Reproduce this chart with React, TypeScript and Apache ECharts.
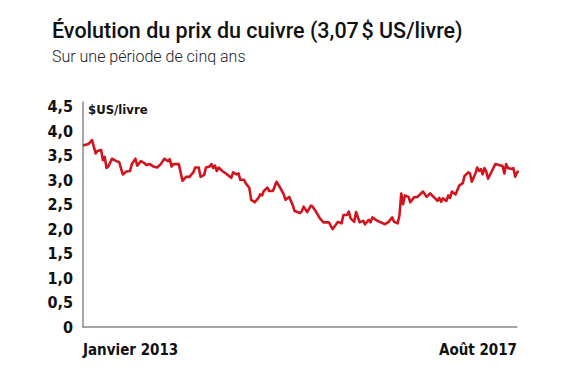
import React, { useEffect, useRef } from "react";
import * as echarts from "echarts";

const titleText = "Évolution du prix du cuivre (3,07\u202f$ US/livre)";
const subtitleText = "Sur une période de cinq ans";
const unitLabel = "$US/livre";
const xEndLabels = ["Janvier 2013", "Août 2017"];
const yTicks = [0, 0.5, 1, 1.5, 2, 2.5, 3, 3.5, 4, 4.5];

// week index since January 2013
const weeks = [
  0, 3, 5, 7, 8, 10, 11, 12, 13, 14, 16, 18, 20, 22, 24, 26, 27, 29, 30, 32, 34, 35, 37, 39, 41, 43, 45, 47, 48, 49,
  50, 53, 55, 57, 59, 60, 61, 62, 64, 65, 67, 68, 70, 71, 72, 73, 74, 75, 77, 79, 82, 83, 85, 86, 87, 89, 90, 92, 93, 95,
  97, 98, 99, 100, 102, 103, 105, 107, 109, 111, 112, 114, 116, 117, 120, 121, 122, 124, 126, 127, 129, 131, 133, 136, 138, 140,
  141, 143, 144, 146, 147, 148, 150, 151, 153, 155, 156, 158, 159, 160, 162, 164, 167, 169, 171, 172, 174, 175, 176, 177,
  178, 180, 181, 183, 185, 188, 190, 192, 195, 196, 197, 198, 199, 201, 202, 203, 204, 206, 208, 210, 211, 213, 214, 215,
  217, 218, 219, 220, 221, 222, 223, 224, 226, 228, 231, 232, 233, 234, 235, 237, 238, 239, 240, 241,
];
const prices = [
  3.71, 3.74, 3.82, 3.55, 3.6, 3.62, 3.41, 3.48, 3.25, 3.28, 3.44, 3.4, 3.37, 3.12, 3.18, 3.19, 3.33, 3.44, 3.3, 3.39, 3.35, 3.31, 3.33, 3.28, 3.26, 3.33, 3.44, 3.39, 3.43, 3.28,
  3.33, 3.33, 2.99, 3.07, 3.07, 3.12, 3.16, 3.26, 3.26, 3.07, 3.11, 3.26, 3.28, 3.33, 3.25, 3.3, 3.19, 3.26, 3.19, 3.14, 3.05, 3.16, 3.12, 3.14, 3.01, 3.01, 2.94, 2.84, 2.6, 2.55,
  2.64, 2.71, 2.69, 2.78, 2.85, 2.78, 2.78, 2.97, 2.85, 2.71, 2.6, 2.66, 2.49, 2.37, 2.33, 2.37, 2.46, 2.35, 2.48, 2.46, 2.35, 2.22, 2.14, 2.14, 2.0, 2.1,
  2.15, 2.12, 2.29, 2.29, 2.36, 2.22, 2.15, 2.35, 2.14, 2.17, 2.1, 2.19, 2.14, 2.24, 2.19, 2.15, 2.1, 2.15, 2.24, 2.15, 2.12, 2.28, 2.73, 2.51,
  2.69, 2.66, 2.55, 2.65, 2.66, 2.77, 2.66, 2.73, 2.62, 2.58, 2.64, 2.56, 2.63, 2.58, 2.69, 2.64, 2.77, 2.71, 2.89, 2.94, 3.09, 3.16, 3.14, 2.97,
  3.14, 3.26, 3.19, 3.23, 3.12, 3.25, 3.18, 3.03, 3.18, 3.33, 3.3, 3.29, 3.14, 3.33, 3.25, 3.23, 3.25, 3.07, 3.16, 3.19,
];

const condensed = "'Liberation Sans Narrow', 'DejaVu Sans Condensed', 'Roboto', sans-serif";

export default function App() {
  const ref = useRef<HTMLDivElement>(null);
  useEffect(() => {
    if (!ref.current) return;
    const chart = echarts.init(ref.current, null, { renderer: "svg" });
    const firstWeek = weeks[0];
    const lastWeek = 240;
    chart.setOption({
      animation: false,
      backgroundColor: "#ffffff",
      title: [
        {
          text: titleText,
          left: 39,
          top: 6,
          textStyle: { fontFamily: "Roboto", fontWeight: 500, fontSize: 21.5, color: "#111111" },
        },
        {
          text: subtitleText,
          left: 39,
          top: 35,
          textStyle: { fontFamily: "Roboto", fontWeight: 300, fontSize: 16, color: "#222222" },
        },
      ],
      graphic: [
        {
          type: "text",
          left: 80,
          top: 95,
          style: { text: unitLabel, fontFamily: condensed, fontWeight: "bold", fontSize: 13, fill: "#111111" },
        },
      ],
      grid: { left: 75, right: 45, top: 94, bottom: 45, containLabel: false },
      xAxis: {
        type: "value",
        min: firstWeek,
        max: lastWeek,
        axisLine: { show: true, lineStyle: { color: "#888888", width: 1.5 } },
        axisTick: { show: false },
        splitLine: { show: false },
        axisLabel: {
          customValues: [firstWeek, lastWeek],
          formatter: (v: number) => (v === firstWeek ? xEndLabels[0] : xEndLabels[1]),
          alignMinLabel: "left",
          alignMaxLabel: "right",
          margin: 15,
          fontFamily: condensed,
          fontWeight: "bold",
          fontSize: 15,
          color: "#111111",
        },
      },
      yAxis: {
        type: "value",
        min: 0,
        max: 4.6,
        interval: 0.5,
        axisLine: { show: true, lineStyle: { color: "#888888", width: 1.5 } },
        axisTick: { show: false },
        splitLine: { show: false },
        axisLabel: {
          customValues: yTicks,
          formatter: (v: number) => (v === 0 ? "0" : v.toFixed(1).replace(".", ",")),
          margin: 10,
          fontFamily: condensed,
          fontWeight: "bold",
          fontSize: 16,
          color: "#111111",
        },
      },
      series: [
        {
          type: "line",
          data: weeks.map((w, i) => [w, prices[i]]),
          showSymbol: false,
          lineStyle: { color: "#d2141e", width: 2.6, join: "round" },
          clip: false,
        },
      ],
    });
    return () => chart.dispose();
  }, []);
  return <div ref={ref} style={{ width: 554, height: 364 }} />;
}
